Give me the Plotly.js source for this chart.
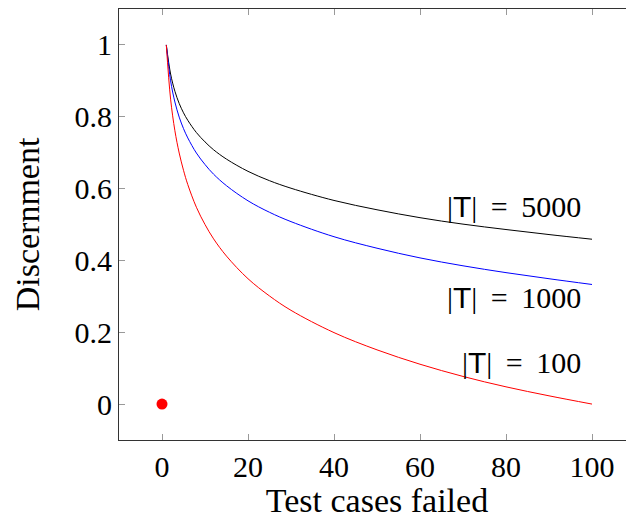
<!DOCTYPE html>
<html><head><meta charset="utf-8">
<script src="https://cdn.plot.ly/plotly-3.0.1.min.js"></script>
<style>html,body{margin:0;padding:0;overflow:hidden;background:#fff}#chart{width:640px;height:519px}</style>
</head><body><div id="chart"></div>
<script>
// Test cases failed (x positions sampled along the curves)
const failed = [1,2,3,4,5,6,8,10,12,15,20,25,30,40,50,60,70,80,90,100];
// Discernment
const disc5000 = [1,0.919,0.871,0.837,0.811,0.790,0.756,0.730,0.708,0.682,0.648,0.622,0.601,0.567,0.541,0.519,0.501,0.486,0.472,0.459];
const disc1000 = [1,0.900,0.841,0.799,0.767,0.741,0.699,0.667,0.640,0.608,0.566,0.534,0.508,0.466,0.434,0.407,0.385,0.366,0.349,0.333];
const disc100  = [1,0.849,0.761,0.699,0.651,0.611,0.548,0.500,0.460,0.412,0.349,0.301,0.261,0.199,0.151,0.111,0.077,0.048,0.023,0.000];
const dotX = [0], dotY = [0];
const labelSizes = ["5000","1000","100"];
const labelX = [98,98,98];
const labelY = [0.549,0.298,0.117];
const xTicks = [0,20,40,60,80,100];
const yTicks = [0,0.2,0.4,0.6,0.8,1];

const font = "Liberation Serif, serif";
const traces = [
 {x:failed,y:disc5000,mode:'lines',line:{color:'black',width:1,shape:'spline'},hoverinfo:'skip'},
 {x:failed,y:disc1000,mode:'lines',line:{color:'blue',width:1,shape:'spline'},hoverinfo:'skip'},
 {x:failed,y:disc100,mode:'lines',line:{color:'red',width:1,shape:'spline'},hoverinfo:'skip'},
 {x:dotX,y:dotY,mode:'markers',marker:{color:'red',size:11},hoverinfo:'skip'}
];
const annotations = labelSizes.map((n,i)=>({x:labelX[i],y:labelY[i],xref:'x',yref:'y',
  text:'|<span style="font-family:\'Liberation Sans\',sans-serif">T</span>|\u2009 = \u2009'+n,
  showarrow:false,xanchor:'right',yanchor:'middle',font:{family:font,size:30,color:'black'}}));
const axisBase = {showgrid:false,zeroline:false,showline:true,linecolor:'#333',linewidth:1,mirror:'ticks',ticks:'inside',ticklen:6,tickcolor:'#999',tickwidth:1,tickfont:{family:font,size:30,color:'black'}};
const layout = {
 width:640,height:519,margin:{l:119,r:5,t:9,b:79},
 paper_bgcolor:'white',plot_bgcolor:'white',showlegend:false,
 xaxis:Object.assign({},axisBase,{range:[-10,110],tickvals:xTicks,ticktext:xTicks.map(String),title:{text:'Test cases failed',font:{family:font,size:34,color:'black'},standoff:4}}),
 yaxis:Object.assign({},axisBase,{range:[-0.1,1.1],tickvals:yTicks,ticktext:yTicks.map(String),title:{text:'Discernment',font:{family:font,size:34,color:'black'},standoff:24}}),
 annotations:annotations
};
Plotly.newPlot('chart',traces,layout,{staticPlot:true,displayModeBar:false});
</script></body></html>
